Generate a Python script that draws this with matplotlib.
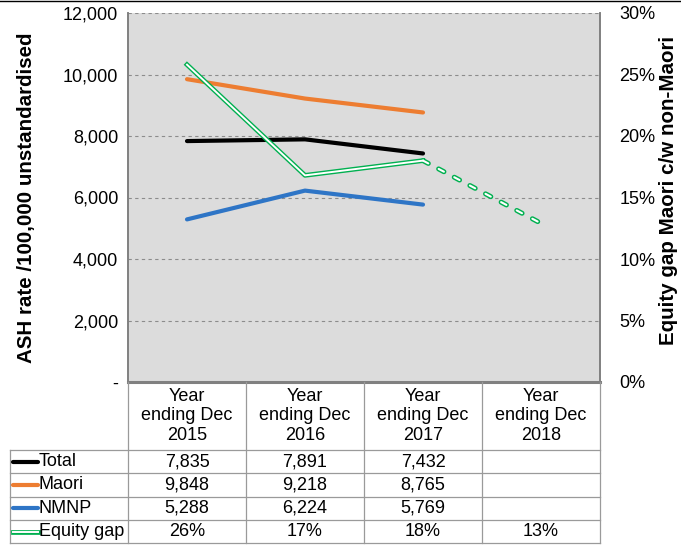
import matplotlib
matplotlib.use("Agg")
import matplotlib.pyplot as plt
import numpy as np
from matplotlib.ticker import FuncFormatter

plt.rcParams['font.family'] = ['Liberation Sans', 'DejaVu Sans']

# data
years = ["Year\nending Dec\n2015", "Year\nending Dec\n2016", "Year\nending Dec\n2017", "Year\nending Dec\n2018"]
total = [7835, 7891, 7432]
maori = [9848, 9218, 8765]
nmnp = [5288, 6224, 5769]
equity_gap = [0.258, 0.168, 0.180, 0.129]
equity_labels = ["26%", "17%", "18%", "13%"]

W, H = 681, 547
fig = plt.figure(figsize=(W / 100, H / 100), dpi=100)

def fx(x):
    return x / W

def fy(y):
    return 1 - y / H

GREEN = "#00b050"
FS = 13

# plot area in pixels
L, R, T, B = 128, 600, 13, 382
ax = fig.add_axes([fx(L), fy(B), fx(R - L), (B - T) / H])
ax.set_facecolor("#dcdcdc")
ax2 = ax.twinx()

xs = np.arange(len(years))
ax.plot(xs[:3], total, color="black", lw=3, solid_capstyle="round", zorder=3)
ax.plot(xs[:3], maori, color="#ed7d31", lw=3, solid_capstyle="round", zorder=3)
ax.plot(xs[:3], nmnp, color="#2e75c6", lw=3, solid_capstyle="round", zorder=3)

# double-line equity gap, dashed for the last year
ax2.plot(xs[:3], equity_gap[:3], color=GREEN, lw=3.4, zorder=3)
ax2.plot(xs[:3], equity_gap[:3], color="white", lw=1.4, zorder=4)
ax2.plot(xs[2:], equity_gap[2:], color=GREEN, lw=3.6, dashes=(1.2, 2.34), dash_capstyle="round", zorder=3)
ax2.plot(xs[2:], equity_gap[2:], color="white", lw=1.5, dashes=(2.88, 5.61), dash_capstyle="round", zorder=4)

ax.set_xlim(-0.5, len(years) - 0.5)
ax.set_ylim(0, 12000)
ax2.set_ylim(0, 0.30)
ax.set_yticks(np.arange(0, 12001, 2000))
ax.yaxis.set_major_formatter(FuncFormatter(lambda v, p: "-" if v == 0 else f"{int(v):,}"))
ax2.set_yticks(np.arange(0, 0.301, 0.05))
ax2.yaxis.set_major_formatter(FuncFormatter(lambda v, p: f"{v * 100:.0f}%"))
ax.set_xticks([])
ax.grid(axis="y", color="#8c8c8c", ls=(0, (3, 3)), lw=0.8)
ax.set_axisbelow(True)

for a in (ax, ax2):
    a.tick_params(axis="y", labelsize=FS, length=0)
    for s in a.spines.values():
        s.set_color("#808080")
        s.set_linewidth(1.2)
    a.spines["top"].set_visible(False)
ax.tick_params(axis="y", pad=7)
ax2.tick_params(axis="y", pad=14)
ax.spines["bottom"].set_linewidth(2.2)

# axis titles placed directly so the right one stays inside the image
fig.text(fx(27), fy(198), "ASH rate /100,000 unstandardised", rotation=90, ha="center", va="center",
         fontsize=14.8, fontweight="bold")
fig.text(fx(668), fy(190), "Equity gap Maori c/w non-Maori", rotation=90, ha="center", va="center",
         fontsize=14.8, fontweight="bold")

# data table under the chart
col_w = (R - L) / len(years)
rows = [
    ("Total", "black", False, [f"{v:,}" for v in total]),
    ("Maori", "#ed7d31", False, [f"{v:,}" for v in maori]),
    ("NMNP", "#2e75c6", False, [f"{v:,}" for v in nmnp]),
    ("Equity gap", GREEN, True, equity_labels),
]
row_top = 450
row_h = 23.3
tab_left = 10
bottom = row_top + row_h * len(rows)
lc = "#9a9a9a"

def hline(y, x0, x1):
    fig.add_artist(plt.Line2D([fx(x0), fx(x1)], [fy(y), fy(y)], color=lc, lw=0.9))

def vline(x, y0, y1):
    fig.add_artist(plt.Line2D([fx(x), fx(x)], [fy(y0), fy(y1)], color=lc, lw=0.9))

for i in range(len(years) + 1):
    vline(L + i * col_w, B, bottom)
vline(tab_left, row_top, bottom)
for j in range(len(rows) + 1):
    hline(row_top + j * row_h, tab_left, R)

for i, lab in enumerate(years):
    fig.text(fx(L + (i + 0.5) * col_w), fy(416), lab, ha="center", va="center",
             fontsize=FS, linespacing=1.2)

for j, (name, col, double, vals) in enumerate(rows):
    yc = row_top + (j + 0.5) * row_h
    if double:
        fig.add_artist(plt.Line2D([fx(13), fx(38)], [fy(yc), fy(yc)], color=col, lw=3.4))
        fig.add_artist(plt.Line2D([fx(13), fx(38)], [fy(yc), fy(yc)], color="white", lw=1.4))
    else:
        fig.add_artist(plt.Line2D([fx(13), fx(38)], [fy(yc), fy(yc)], color=col, lw=3, solid_capstyle="round"))
    fig.text(fx(39), fy(yc), name, ha="left", va="center", fontsize=FS)
    for i, v in enumerate(vals):
        fig.text(fx(L + (i + 0.5) * col_w), fy(yc), v, ha="center", va="center", fontsize=FS)

# frame line at top of image
fig.add_artist(plt.Line2D([0, 1], [fy(1), fy(1)], color="black", lw=1))

fig.savefig("out.png", dpi=100)
